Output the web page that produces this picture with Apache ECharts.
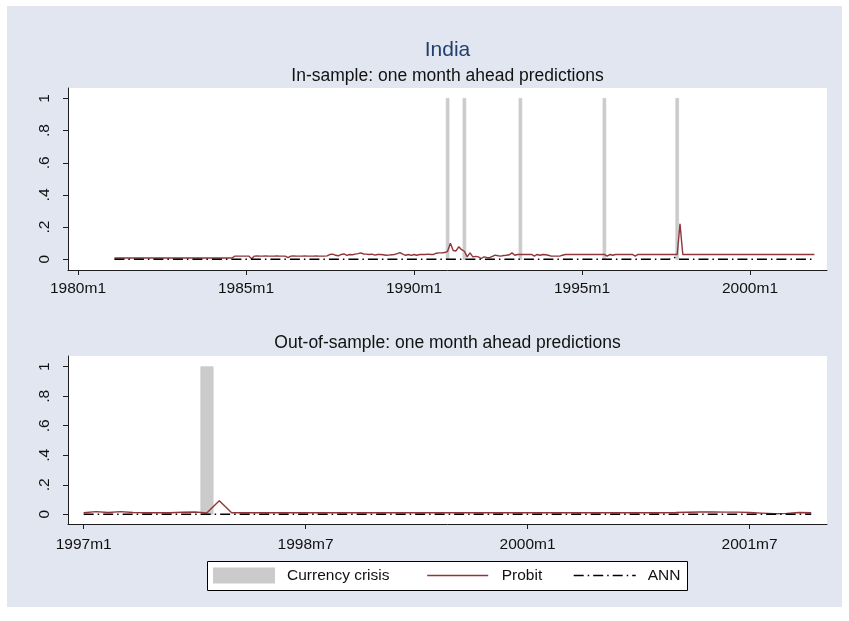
<!DOCTYPE html>
<html>
<head>
<meta charset="utf-8">
<title>India</title>
<script src="https://cdn.jsdelivr.net/npm/echarts@6/dist/echarts.min.js"></script>
<style>
  html, body { margin: 0; padding: 0; background: #ffffff; }
  #frame { position: absolute; left: 7px; top: 6px; width: 835px; height: 601px; background: #e1e6f0; }
  #chart { position: absolute; left: 0; top: 0; width: 849px; height: 621px; }
</style>
</head>
<body>
<div id="frame"></div>
<div id="chart"></div>
<script>
// ---- In-sample panel: monthly series starting 1981m2 ----
const inStart = '1981m2';
const inProbit = [
  0.008, 0.008, 0.008, 0.008, 0.008, 0.008, 0.008, 0.008, 0.008, 0.008,
  0.008, 0.008, 0.008, 0.008, 0.008, 0.008, 0.008, 0.008, 0.008, 0.008,
  0.008, 0.008, 0.008, 0.008, 0.008, 0.008, 0.008, 0.008, 0.008, 0.008,
  0.008, 0.008, 0.008, 0.008, 0.008, 0.008, 0.008, 0.008, 0.008, 0.008,
  0.008, 0.008, 0.008,
  0.02, 0.02, 0.02, 0.02, 0.02, 0.02,
  0.004,
  0.02, 0.021, 0.02, 0.02, 0.021, 0.02, 0.02, 0.02, 0.021, 0.02, 0.02, 0.02,
  0.01,
  0.02, 0.021, 0.02, 0.02, 0.02, 0.021, 0.02, 0.02, 0.02, 0.021, 0.02, 0.02, 0.02, 0.021,
  0.03, 0.032, 0.025, 0.022, 0.03, 0.033, 0.024, 0.03, 0.028, 0.032,
  0.035, 0.04, 0.033, 0.032, 0.03, 0.032, 0.026, 0.03, 0.03, 0.028,
  0.025, 0.026, 0.028, 0.03, 0.035, 0.042, 0.032, 0.025, 0.03, 0.024,
  0.03, 0.025, 0.03, 0.03, 0.03, 0.032, 0.03, 0.03, 0.038, 0.04,
  0.04, 0.042, 0.05,
  0.1, 0.055, 0.052, 0.078, 0.06, 0.05, 0.015, 0.04, 0.015, 0.018,
  0.015, 0.005, 0.015, 0.012, 0.01, 0.018, 0.026, 0.022, 0.02, 0.024,
  0.025, 0.028, 0.04, 0.025, 0.03,
  0.03, 0.03, 0.03, 0.03, 0.03,
  0.02, 0.03, 0.025, 0.03, 0.028,
  0.025, 0.02, 0.02, 0.02, 0.02, 0.025,
  0.03, 0.03, 0.03, 0.03, 0.03, 0.03, 0.03, 0.03, 0.03, 0.03,
  0.03, 0.03, 0.03, 0.03, 0.03,
  0.02, 0.03, 0.025,
  0.03, 0.03, 0.03, 0.03, 0.03, 0.03, 0.03,
  0.02,
  0.03, 0.03, 0.03, 0.03, 0.03, 0.03, 0.03, 0.03, 0.03, 0.03,
  0.03, 0.03, 0.03, 0.03, 0.03,
  0.22,
  0.03, 0.03, 0.03, 0.03, 0.03, 0.03, 0.03, 0.03, 0.03, 0.03,
  0.03, 0.03, 0.03, 0.03, 0.03, 0.03, 0.03, 0.03, 0.03, 0.03,
  0.03, 0.03, 0.03, 0.03, 0.03, 0.03, 0.03, 0.03, 0.03, 0.03,
  0.03, 0.03, 0.03, 0.03, 0.03, 0.03, 0.03, 0.03, 0.03, 0.03,
  0.03, 0.03, 0.03, 0.03, 0.03, 0.03, 0.03, 0.03
];
const inAnn = [
  0, 0, 0, 0, 0, 0, 0, 0, 0, 0, 0, 0, 0, 0, 0, 0, 0, 0, 0, 0,
  0, 0, 0, 0, 0, 0, 0, 0, 0, 0, 0, 0, 0, 0, 0, 0, 0, 0, 0, 0,
  0, 0, 0, 0, 0, 0, 0, 0, 0, 0, 0, 0, 0, 0, 0, 0, 0, 0, 0, 0,
  0, 0, 0, 0, 0, 0, 0, 0, 0, 0, 0, 0, 0, 0, 0, 0, 0, 0, 0, 0,
  0, 0, 0, 0, 0, 0, 0, 0, 0, 0, 0, 0, 0, 0, 0, 0, 0, 0, 0, 0,
  0, 0, 0, 0, 0, 0, 0, 0, 0, 0, 0, 0, 0, 0, 0, 0, 0, 0, 0, 0,
  0, 0, 0, 0, 0, 0, 0, 0, 0, 0, 0, 0, 0, 0, 0, 0, 0, 0, 0, 0,
  0, 0, 0, 0, 0, 0, 0, 0, 0, 0, 0, 0, 0, 0, 0, 0, 0, 0, 0, 0,
  0, 0, 0, 0, 0, 0, 0, 0, 0, 0, 0, 0, 0, 0, 0, 0, 0, 0, 0, 0,
  0, 0, 0, 0, 0, 0, 0, 0, 0, 0, 0, 0, 0, 0, 0, 0, 0, 0, 0, 0.004,
  0.012, 0, 0, 0, 0, 0, 0, 0, 0, 0, 0, 0, 0, 0, 0, 0, 0, 0, 0, 0,
  0, 0, 0, 0, 0, 0, 0, 0, 0, 0, 0, 0, 0, 0, 0, 0, 0, 0, 0, 0,
  0, 0, 0, 0, 0, 0, 0, 0, 0, 0, 0
];
const inCrisis = ['1991m1', '1991m7', '1993m3', '1995m9', '1997m11'];
const inTicks = ['1980m1', '1985m1', '1990m1', '1995m1', '2000m1'];

// ---- Out-of-sample panel: monthly series starting 1997m1 ----
const outStart = '1997m1';
const outProbit = [
  0.011, 0.018, 0.012, 0.018, 0.012, 0.011, 0.011, 0.011, 0.014, 0.016,
  0.01, 0.092, 0.011, 0.011, 0.011, 0.011, 0.011, 0.011, 0.011, 0.011,
  0.011, 0.011, 0.011, 0.011, 0.011, 0.011, 0.011, 0.011, 0.011, 0.011,
  0.011, 0.011, 0.011, 0.011, 0.011, 0.011, 0.011, 0.011, 0.011, 0.011,
  0.011, 0.011, 0.011, 0.011, 0.011, 0.011, 0.011, 0.011, 0.012, 0.014,
  0.016, 0.016, 0.015, 0.015, 0.012, 0.008, 0.004, 0.006, 0.012, 0.011
];
const outAnn = [
  0, 0, 0, 0, 0, 0, 0, 0, 0, 0, 0, 0, 0, 0, 0, 0, 0, 0, 0, 0,
  0, 0, 0, 0, 0, 0, 0, 0, 0, 0, 0, 0, 0, 0, 0, 0, 0, 0, 0, 0,
  0, 0, 0, 0, 0, 0, 0, 0, 0, 0, 0, 0, 0, 0, 0, 0, 0, 0, 0, 0
];
const outCrisis = ['1997m11'];
const outTicks = ['1997m1', '1998m7', '2000m1', '2001m7'];

// ---- Shared y-axis ticks ----
const yTicks = [0, 0.2, 0.4, 0.6, 0.8, 1];
const yTickLabels = ['0', '.2', '.4', '.6', '.8', '1'];

// Monthly dates as months since 1960m1
function tm(s) {
  const parts = s.split('m');
  return (Number(parts[0]) - 1960) * 12 + (Number(parts[1]) - 1);
}
function fmtMonth(v) {
  const n = Math.round(v);
  const y = Math.floor(n / 12) + 1960;
  return y + 'm' + (n - (y - 1960) * 12 + 1);
}
function yLabel(v) {
  let best = 0;
  yTicks.forEach(function (t, i) { if (Math.abs(t - v) < Math.abs(yTicks[best] - v)) best = i; });
  return yTickLabels[best];
}
function pairs(start, values) {
  const s = tm(start);
  return values.map(function (v, i) { return [s + i, v]; });
}

const FONT = '"Liberation Sans", Arial, Helvetica, sans-serif';
const AXIS = '#1e1e1e';
const CRISIS = '#cbcbcb';
const PROBIT = '#90353b';
const ANN_DASH = [10, 4, 1.5, 4];

function crisisBar(params, api) {
  const x = api.value(0), h = api.value(1);
  const a = api.coord([x - 0.5, h]);
  const b = api.coord([x + 0.5, 0]);
  return {
    type: 'rect',
    shape: { x: a[0], y: a[1], width: b[0] - a[0], height: b[1] - a[1] },
    style: { fill: CRISIS, stroke: CRISIS, lineWidth: 0.8 }
  };
}

function xAxis(gridIndex, ticks, min, max, margin) {
  const vals = ticks.map(tm);
  return {
    type: 'value', gridIndex: gridIndex, min: min, max: max,
    splitLine: { show: false },
    axisLine: { show: true, onZero: false, lineStyle: { color: AXIS, width: 1 } },
    axisTick: { show: true, length: 5, customValues: vals, lineStyle: { color: AXIS, width: 1 } },
    axisLabel: { customValues: vals, formatter: fmtMonth, margin: margin,
                 fontSize: 15.5, color: '#111', fontFamily: FONT }
  };
}
function yAxis(gridIndex, min, max) {
  return {
    type: 'value', gridIndex: gridIndex, min: min, max: max,
    splitLine: { show: false },
    axisLine: { show: true, onZero: false, lineStyle: { color: AXIS, width: 1 } },
    axisTick: { show: true, length: 5, customValues: yTicks, lineStyle: { color: AXIS, width: 1 } },
    axisLabel: { customValues: yTicks, formatter: yLabel, rotate: 90, margin: 15,
                 fontSize: 15.5, color: '#111', fontFamily: FONT }
  };
}

function panelSeries(idx, crisis, start, probit, ann) {
  return [
    { name: 'Currency crisis', type: 'custom', xAxisIndex: idx, yAxisIndex: idx,
      renderItem: crisisBar, itemStyle: { color: CRISIS }, z: 1, silent: true,
      data: crisis.map(function (c) { return [tm(c), 1]; }) },
    { name: 'Probit', type: 'line', xAxisIndex: idx, yAxisIndex: idx,
      symbol: 'none', showSymbol: false, legendIcon: 'none',
      lineStyle: { color: PROBIT, width: 1.4 }, itemStyle: { color: PROBIT }, z: 3, silent: true,
      data: pairs(start, probit) },
    { name: 'ANN', type: 'line', xAxisIndex: idx, yAxisIndex: idx,
      symbol: 'none', showSymbol: false, legendIcon: 'none',
      lineStyle: { color: '#000', width: 1.4, type: ANN_DASH }, itemStyle: { color: '#000' }, z: 4, silent: true,
      data: pairs(start, ann) }
  ];
}

function legendAt(left, width, name, gap, extra) {
  const item = Object.assign({ name: name }, extra);
  return {
    left: left, top: 567.5, padding: 0, itemWidth: width, itemHeight: 16,
    selectedMode: false, z: 6, data: [item],
    formatter: function (n) { return '{t|' + n + '}'; },
    textStyle: { rich: { t: { padding: [0, 0, 0, gap], fontSize: 15.5, color: '#111', fontFamily: FONT } } }
  };
}

const chart = echarts.init(document.getElementById('chart'), null, { renderer: 'canvas' });
const tIn = tm(inTicks[0]);
const tOut = tm(outTicks[0]);

chart.setOption({
  animation: false,
  backgroundColor: 'transparent',
  grid: [
    { left: 68, top: 88, width: 759, height: 182, show: true, backgroundColor: '#ffffff', borderWidth: 0 },
    { left: 68, top: 356, width: 759, height: 168, show: true, backgroundColor: '#ffffff', borderWidth: 0 }
  ],
  xAxis: [
    xAxis(0, inTicks, tIn - 3.57, tIn + 267.5, 11),
    xAxis(1, outTicks, tOut - 1.27, tOut + 60.28, 13)
  ],
  yAxis: [
    yAxis(0, -0.0665, 1.065),
    yAxis(1, -0.0657, 1.0725)
  ],
  series: panelSeries(0, inCrisis, inStart, inProbit, inAnn)
    .concat(panelSeries(1, outCrisis, outStart, outProbit, outAnn)),
  legend: [
    legendAt(213, 62, 'Currency crisis', 7, { icon: 'rect', itemStyle: { color: CRISIS, borderWidth: 0 } }),
    legendAt(426.5, 61, 'Probit', 8.5, { itemStyle: { opacity: 0 }, lineStyle: { color: PROBIT, width: 1.4, opacity: 1 } }),
    legendAt(573, 62, 'ANN', 7, { itemStyle: { opacity: 0 }, lineStyle: { color: '#000', width: 1.4, type: ANN_DASH, opacity: 1 } })
  ],
  graphic: [
    { type: 'text', x: 447.5, y: 50, z: 5,
      style: { text: 'India', align: 'center', verticalAlign: 'middle',
               font: '21px ' + FONT, fill: '#233e6c' } },
    { type: 'text', x: 447.5, y: 76, z: 5,
      style: { text: 'In-sample: one month ahead predictions', align: 'center', verticalAlign: 'middle',
               font: '17.5px ' + FONT, fill: '#111' } },
    { type: 'text', x: 447.5, y: 343.5, z: 5,
      style: { text: 'Out-of-sample: one month ahead predictions', align: 'center', verticalAlign: 'middle',
               font: '17.5px ' + FONT, fill: '#111' } },
    { type: 'rect', z: 1, shape: { x: 207.5, y: 561.5, width: 480, height: 29 },
      style: { fill: '#ffffff', stroke: '#000', lineWidth: 1 } }
  ]
});
</script>
</body>
</html>
